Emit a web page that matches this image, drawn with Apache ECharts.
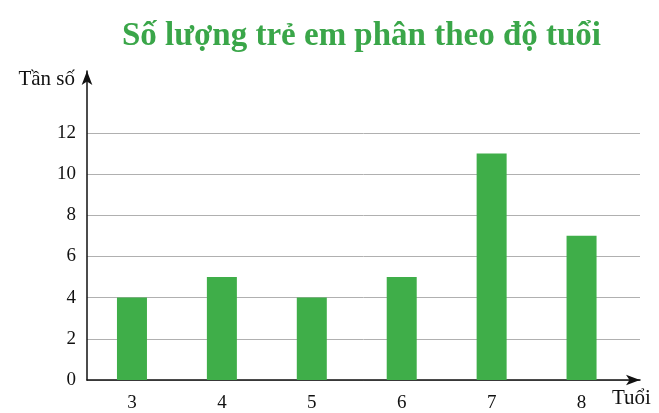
<!DOCTYPE html>
<html>
<head>
<meta charset="utf-8">
<script src="https://cdn.jsdelivr.net/npm/echarts@6/dist/echarts.min.js"></script>
<style>
	html, body { margin: 0; padding: 0; background: #fff; }
	#chart-container { width: 659px; height: 413px; }
</style>
</head>
<body>
<div id="chart-container"></div>
<script>

var ages = [3, 4, 5, 6, 7, 8];
var counts = [4, 5, 4, 5, 11, 7];
var yTicks = [0, 2, 4, 6, 8, 10, 12];

function buildBarData() {
	var list = [];
	for (var i = 0; i < ages.length; i++) {
		list.push([ages[i], counts[i]]);
	}
	return list;
}

var serif = "'Liberation Serif', 'DejaVu Serif', serif";

var myChart = echarts.init(document.getElementById('chart-container'));

option = {
	backgroundColor : '#fff',
	animation : false,
	title : {
		text : 'Số lượng trẻ em phân theo độ tuổi',
		left : 117,
		top : 15,
		textStyle : {
			fontFamily : serif,
			fontWeight : 'bold',
			fontSize : 33,
			color : '#3aa649'
		}
	},
	grid : {
		left : 87,
		right : 19,
		top : 71,
		bottom : 29
	},
	xAxis : {
		type : 'value',
		min : 2.5,
		max : 8.65,
		name : 'Tuổi',
		nameLocation : 'end',
		nameGap : -28,
		nameTextStyle : {
			fontFamily : serif,
			fontSize : 21,
			color : '#111',
			align : 'left',
			verticalAlign : 'top',
			padding : [8, 0, 0, 0]
		},
		axisLine : {
			show : true,
			symbol : ['none', 'arrow'],
			symbolSize : [8, 14],
			lineStyle : { color : '#111', width : 1.5 }
		},
		axisTick : { show : false, customValues : ages },
		splitLine : { show : false },
		axisLabel : {
			customValues : ages,
			fontFamily : serif,
			fontSize : 19,
			color : '#111',
			margin : 14
		}
	},
	yAxis : {
		type : 'value',
		min : 0,
		max : 15,
		name : 'Tần số',
		nameLocation : 'end',
		nameGap : -8,
		nameTextStyle : {
			fontFamily : serif,
			fontSize : 21,
			color : '#111',
			align : 'right',
			verticalAlign : 'middle',
			padding : [0, 12, 0, 0]
		},
		axisLine : {
			show : true,
			symbol : ['none', 'arrow'],
			symbolSize : [8, 14],
			lineStyle : { color : '#111', width : 1.5 }
		},
		axisTick : { show : false, customValues : yTicks },
		axisLabel : {
			customValues : yTicks,
			fontFamily : serif,
			fontSize : 19,
			color : '#111',
			margin : 11
		},
		splitLine : {
			show : true,
			lineStyle : { color : '#b0b0b0', width : 1 }
		}
	},
	series : [{
		type : 'bar',
		data : buildBarData(),
		barWidth : 30,
		itemStyle : { color : '#3fae49' }
	}]
};

myChart.setOption(option);

</script>
</body>
</html>
